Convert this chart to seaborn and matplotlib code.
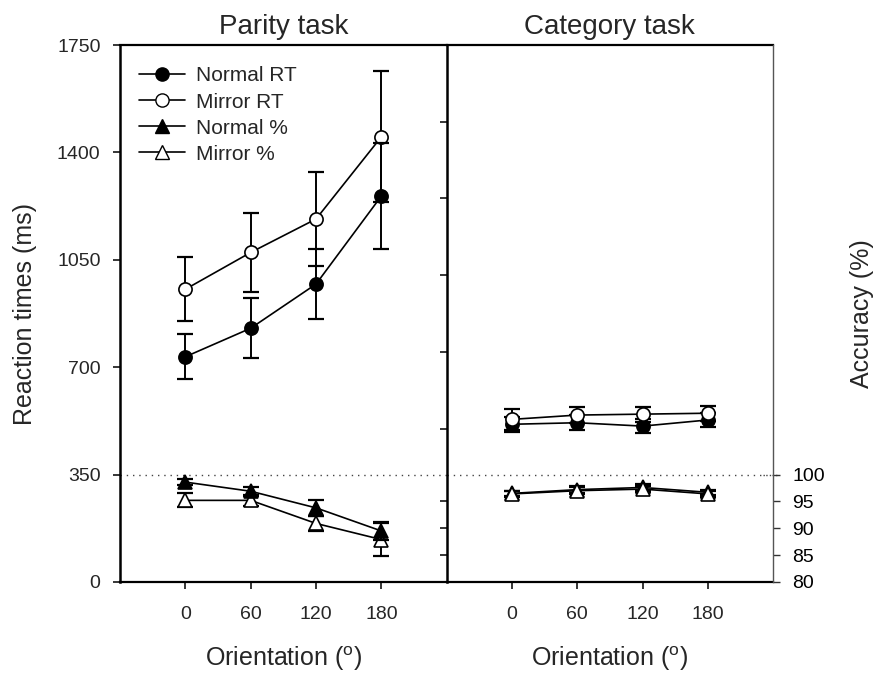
import matplotlib
matplotlib.use("Agg")
import matplotlib.pyplot as plt
import seaborn as sns
from matplotlib.lines import Line2D

# ---- data -------------------------------------------------------------
orientations = [0, 60, 120, 180]

parity_normal_rt = [734, 827, 971, 1258]
parity_normal_rt_err = [74, 98, 114, 174]
parity_mirror_rt = [954, 1074, 1183, 1451]
parity_mirror_rt_err = [104, 130, 153, 213]
parity_normal_acc = [98.6, 96.9, 93.8, 89.5]
parity_normal_acc_err = [0.5, 0.8, 1.5, 1.6]
parity_mirror_acc = [95.2, 95.2, 90.9, 87.9]
parity_mirror_acc_err = [1.3, 1.0, 1.4, 3.1]

category_normal_rt = [514, 519, 508, 528]
category_normal_rt_err = [24, 24, 22, 22]
category_mirror_rt = [530, 544, 547, 550]
category_mirror_rt_err = [34, 25, 24, 24]
category_normal_acc = [96.5, 97.2, 97.6, 96.7]
category_normal_acc_err = [0.5, 0.6, 0.6, 0.5]
category_mirror_acc = [96.4, 97.0, 97.3, 96.4]
category_mirror_acc_err = [0.5, 0.6, 0.6, 0.5]

rt_ticks = [0, 350, 700, 1050, 1400, 1750]
acc_ticks = [80, 85, 90, 95, 100]
inner_rt_ticks = [500, 750, 1000, 1250, 1500]

# ---- style ------------------------------------------------------------
sns.set_style("ticks")
plt.rcParams["font.family"] = ["Liberation Sans", "DejaVu Sans"]
plt.rcParams["mathtext.fontset"] = "custom"
plt.rcParams["mathtext.rm"] = "Liberation Sans"

RT_MAX = rt_ticks[-1]
ACC_MIN, ACC_MAX_SHOWN = acc_ticks[0], acc_ticks[-1]
ACC_REF_RT = 350  # 100 % accuracy sits at this reaction-time level
acc_per_rt = (ACC_MAX_SHOWN - ACC_MIN) / ACC_REF_RT
acc_top = ACC_MIN + RT_MAX * acc_per_rt

LW = 1.2
MS = 9.5
CAP = 6
TICK_FS = 14
LABEL_FS = 18

fig = plt.figure(figsize=(8.76, 6.75), dpi=100)
axL = fig.add_axes([0.137, 0.1378, 0.373, 0.7955])
axR = fig.add_axes([0.510, 0.1378, 0.3725, 0.7955])
axLa = axL.twinx()
axRa = axR.twinx()


def draw_series(ax, y, err, marker, filled, zo):
    face = "black" if filled else "white"
    ax.errorbar(orientations, y, yerr=err, fmt="none", ecolor="black",
                elinewidth=1.4, capsize=CAP, capthick=1.6, zorder=zo)
    sns.lineplot(x=orientations, y=y, ax=ax, color="black", linewidth=LW,
                 marker=marker, markersize=MS, markerfacecolor=face,
                 markeredgecolor="black", markeredgewidth=1.2,
                 errorbar=None, zorder=zo + 1, legend=False)


# Parity task
draw_series(axL, parity_mirror_rt, parity_mirror_rt_err, "o", False, 3)
draw_series(axL, parity_normal_rt, parity_normal_rt_err, "o", True, 5)
draw_series(axLa, parity_mirror_acc, parity_mirror_acc_err, "^", False, 3)
draw_series(axLa, parity_normal_acc, parity_normal_acc_err, "^", True, 5)

# Category task
draw_series(axR, category_normal_rt, category_normal_rt_err, "o", True, 3)
draw_series(axR, category_mirror_rt, category_mirror_rt_err, "o", False, 5)
draw_series(axRa, category_normal_acc, category_normal_acc_err, "^", True, 3)
draw_series(axRa, category_mirror_acc, category_mirror_acc_err, "^", False, 5)

for ax in (axL, axR):
    ax.set_xlim(-60, 240)
    ax.set_ylim(0, RT_MAX)
    ax.set_xticks(orientations)
    ax.set_xticklabels([str(o) for o in orientations], fontsize=TICK_FS)
    ax.tick_params(axis="x", direction="out", length=5, width=1.3, pad=12)
    ax.set_xlabel(r"Orientation ($^{\mathrm{o}}$)", fontsize=LABEL_FS)
    ax.xaxis.set_label_coords(0.5, -0.117)
    ax.axhline(ACC_REF_RT, color="#444444", lw=1.0, ls=(0, (1, 3.5)),
               zorder=1)
    for s in ("bottom", "top"):
        ax.spines[s].set_color("black")
        ax.spines[s].set_linewidth(1.6)

for ax in (axLa, axRa):
    ax.set_ylim(ACC_MIN, acc_top)
    ax.set_xlim(-60, 240)
    for s in ("left", "top", "bottom"):
        ax.spines[s].set_visible(False)
    ax.set_ylabel("")

# left panel axes
axL.set_yticks(rt_ticks)
axL.set_yticklabels([str(t) for t in rt_ticks], fontsize=TICK_FS)
axL.tick_params(axis="y", direction="out", length=5, width=1.3, pad=9)
axL.spines["left"].set_linewidth(1.8)
axL.spines["left"].set_color("black")
axL.spines["right"].set_visible(False)
axL.set_ylabel("Reaction times (ms)", fontsize=LABEL_FS)
axL.yaxis.set_label_coords(-0.255, 0.5)
axLa.spines["right"].set_visible(False)
axLa.set_yticks([])

# right panel axes: unlabeled inner ticks on the shared divider
inner_acc_rt = [(a - ACC_MIN) / acc_per_rt for a in acc_ticks[1:-1]]
axR.set_yticks(inner_rt_ticks + inner_acc_rt)
axR.set_yticklabels([])
axR.tick_params(axis="y", direction="out", length=5, width=1.3)
axR.spines["left"].set_linewidth(1.8)
axR.spines["left"].set_color("black")
axR.spines["right"].set_visible(False)
axR.set_ylabel("")
axR.axhline(ACC_REF_RT, xmin=0.97, xmax=1.025, color="#444444", lw=1.0,
            ls=(0, (1, 3.5)), clip_on=False, zorder=1)

axRa.set_yticks(acc_ticks)
axRa.set_yticklabels([str(t) for t in acc_ticks], fontsize=TICK_FS)
axRa.tick_params(axis="y", direction="out", length=5, width=1.0, pad=9,
                 colors="#333333", labelcolor="black")
axRa.spines["right"].set_color("#555555")
axRa.spines["right"].set_linewidth(1.0)
axRa.set_ylabel("Accuracy (%)", fontsize=LABEL_FS, rotation=90)
axRa.yaxis.set_label_coords(1.235, 0.5)

axL.set_title("Parity task", fontsize=20, pad=8)
axR.set_title("Category task", fontsize=20, pad=8)

handles = [
    Line2D([], [], color="black", lw=LW, marker="o", ms=MS,
           mfc="black", mec="black"),
    Line2D([], [], color="black", lw=LW, marker="o", ms=MS,
           mfc="white", mec="black"),
    Line2D([], [], color="black", lw=LW, marker="^", ms=MS,
           mfc="black", mec="black"),
    Line2D([], [], color="black", lw=LW, marker="^", ms=MS,
           mfc="white", mec="black"),
]
axLa.legend(handles, ["Normal RT", "Mirror RT", "Normal %", "Mirror %"],
            loc="upper left", bbox_to_anchor=(0.0, 0.995), frameon=False,
            fontsize=15, handlelength=2.2, handletextpad=0.55,
            labelspacing=0.34, borderaxespad=0.5)

fig.savefig("out.png", dpi=100)
